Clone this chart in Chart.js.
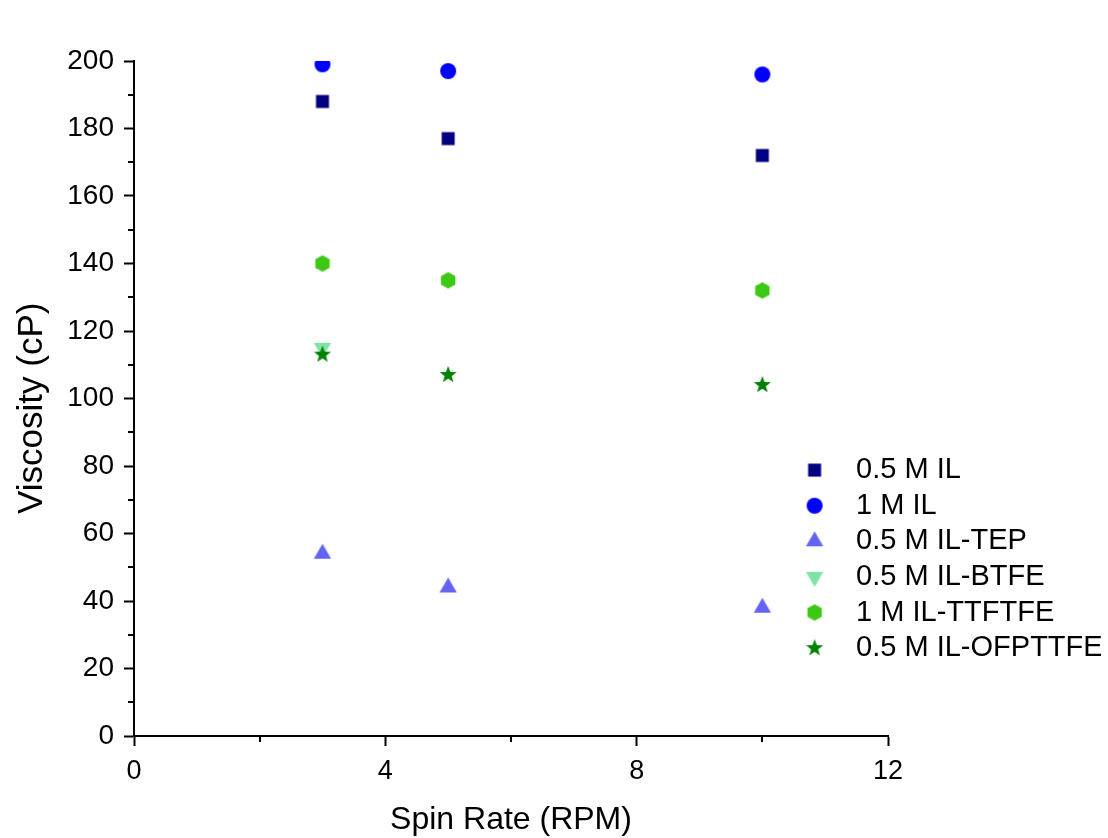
<!DOCTYPE html>
<html>
<head>
<meta charset="UTF-8">
<style>
  html, body { margin: 0; padding: 0; background: #fff; }
</style>
</head>
<body>
<canvas id="myChart" width="1108" height="838"></canvas>

<script src="https://cdn.jsdelivr.net/npm/chart.js"></script>

<script>
    // spin rate (RPM) on x, viscosity (cP) on y
    const spinRate = [3, 5, 10];
    const il05 = [188, 177, 172];
    const il1 = [199, 197, 196];
    const ilTep05 = [54, 44, 38];
    const ilBtfe05 = [115];          // only measured at 3 RPM
    const ilTtftfe1 = [140, 135, 132];
    const ilOfpttfe05 = [113, 107, 104];

    const seriesNames = ['0.5 M IL', '1 M IL', '0.5 M IL-TEP', '0.5 M IL-BTFE', '1 M IL-TTFTFE', '0.5 M IL-OFPTTFE'];
    const seriesColors = ['#000080', '#0000FF', '#6464F2', '#7FE3A6', '#3CC814', '#008000'];

    const yTicks = [0, 20, 40, 60, 80, 100, 120, 140, 160, 180, 200];
    const xTicks = [0, 4, 8, 12];

    // marker shapes drawn on small canvases so plot and legend use the same sizes
    function marker(shape, color) {
        const c = document.createElement('canvas');
        c.width = 24; c.height = 24;
        const g = c.getContext('2d');
        const cx = 12, cy = 12;
        g.fillStyle = color;
        g.beginPath();
        if (shape === 'square') {
            g.rect(cx - 6.5, cy - 6.5, 13, 13);
        } else if (shape === 'circle') {
            g.arc(cx, cy, 8, 0, Math.PI * 2);
        } else if (shape === 'triUp' || shape === 'triDown') {
            const r = 10, s = shape === 'triUp' ? -1 : 1;
            g.moveTo(cx, cy + s * r);
            g.lineTo(cx + r * Math.sqrt(3) / 2, cy - s * r / 2);
            g.lineTo(cx - r * Math.sqrt(3) / 2, cy - s * r / 2);
        } else if (shape === 'hexagon') {
            const r = 8.3;
            for (let k = 0; k < 6; k++) {
                const a = -Math.PI / 2 + k * Math.PI / 3;
                g.lineTo(cx + r * Math.cos(a), cy + r * Math.sin(a));
            }
        } else if (shape === 'star') {
            const ro = 9, ri = 3.7;
            for (let k = 0; k < 10; k++) {
                const a = -Math.PI / 2 + k * Math.PI / 5;
                const r = k % 2 ? ri : ro;
                g.lineTo(cx + r * Math.cos(a), cy + r * Math.sin(a));
            }
        }
        g.closePath();
        g.fill();
        return c;
    }

    const shapes = ['square', 'circle', 'triUp', 'triDown', 'hexagon', 'star'];
    const seriesValues = [il05, il1, ilTep05, ilBtfe05, ilTtftfe1, ilOfpttfe05];

    const datasets = seriesValues.map((vals, i) => ({
        label: seriesNames[i],
        data: vals.map((v, j) => ({ x: spinRate[j], y: v })),
        pointStyle: marker(shapes[i], seriesColors[i]),
        backgroundColor: seriesColors[i],
        borderColor: seriesColors[i],
        pointRadius: 8,
        pointHoverRadius: 8,
        showLine: false,
        clip: 0,
        order: i === 5 ? -1 : i      // stars on top of the BTFE triangle
    }));

    // short ticks between the labelled ones
    const minorTicks = {
        id: 'minorTicks',
        afterDraw(chart) {
            const { ctx, scales: { x, y } } = chart;
            ctx.save();
            ctx.strokeStyle = '#000';
            ctx.lineWidth = 2;
            ctx.beginPath();
            for (let i = 0; i < yTicks.length - 1; i++) {
                const py = Math.round(y.getPixelForValue((yTicks[i] + yTicks[i + 1]) / 2));
                ctx.moveTo(y.right - 6, py);
                ctx.lineTo(y.right, py);
            }
            for (let i = 0; i < xTicks.length - 1; i++) {
                const px = Math.round(x.getPixelForValue((xTicks[i] + xTicks[i + 1]) / 2));
                ctx.moveTo(px, x.top);
                ctx.lineTo(px, x.top + 6);
            }
            ctx.stroke();
            ctx.restore();
        }
    };

    // legend sits inside the plot, lower right
    const legendInside = {
        id: 'legendInside',
        afterLayout(chart) {
            const lg = chart.legend;
            if (!lg) return;
            lg.left = 781;
            lg.top = 449;
            lg.right = lg.left + 320;
            lg.bottom = 838;
        }
    };

    Chart.defaults.font.family = "'Liberation Sans', Arial, sans-serif";
    Chart.defaults.color = '#000';

    new Chart(document.getElementById('myChart'), {
        type: 'scatter',
        data: { datasets },
        plugins: [minorTicks, legendInside],
        options: {
            responsive: false,
            animation: false,
            layout: { padding: { left: 0, top: 61, right: 220, bottom: 0 } },
            plugins: {
                tooltip: { enabled: false },
                legend: {
                    position: 'chartArea',
                    align: 'start',
                    labels: {
                        usePointStyle: true,
                        pointStyleWidth: 54,
                        padding: 6.6,
                        color: '#000',
                        font: { size: 29 },
                        sort: (a, b) => a.datasetIndex - b.datasetIndex
                    }
                }
            },
            scales: {
                x: {
                    type: 'linear',
                    min: 0,
                    max: 12,
                    afterBuildTicks(s) { s.ticks = xTicks.map(v => ({ value: v })); },
                    ticks: { font: { size: 27 }, padding: 9, color: '#000' },
                    grid: { drawOnChartArea: false, tickLength: 10, tickWidth: 2, tickColor: '#000' },
                    border: { width: 2, color: '#000' },
                    title: {
                        display: true,
                        text: 'Spin Rate (RPM)',
                        color: '#000',
                        font: { size: 32, lineHeight: 1.1 },
                        padding: { top: 0, bottom: 0 }
                    },
                    afterFit(s) { s.height = 102; }
                },
                y: {
                    type: 'linear',
                    min: 0,
                    max: 200,
                    afterBuildTicks(s) { s.ticks = yTicks.map(v => ({ value: v })); },
                    ticks: { font: { size: 28 }, padding: 10, color: '#000' },
                    grid: { drawOnChartArea: false, tickLength: 10, tickWidth: 2, tickColor: '#000' },
                    border: { width: 2, color: '#000' },
                    title: {
                        display: true,
                        text: 'Viscosity (cP)  ',
                        color: '#000',
                        font: { size: 35 },
                        padding: { top: 11, bottom: 0 }
                    },
                    afterFit(s) { s.width = 134; }
                }
            }
        }
    });
</script>
</body>
</html>
